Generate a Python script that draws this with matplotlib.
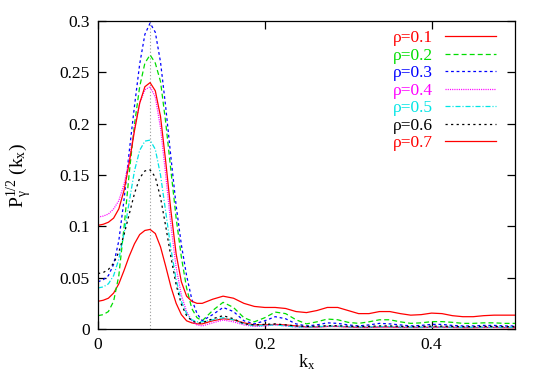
import matplotlib
matplotlib.use("Agg")
import matplotlib.pyplot as plt

plt.rcParams["font.family"] = "serif"
plt.rcParams["font.serif"] = ["Liberation Serif", "DejaVu Serif"]
plt.rcParams["mathtext.fontset"] = "custom"
plt.rcParams["mathtext.rm"] = "Liberation Serif"
plt.rcParams["mathtext.it"] = "Liberation Serif:italic"
plt.rcParams["lines.scale_dashes"] = False

# k_x sample points
kx = [0, .00625, .0125, .01875, .025, .03125, .0375, .04375, .05, .05625,
      .0625, .06875, .075, .08125, .0875, .09375, .1, .10625, .1125, .11875,
      .125, .1375, .15, .1625, .175, .1875, .2, .2125, .225, .2375,
      .25, .2625, .275, .2875, .3, .3125, .325, .3375, .35, .3625,
      .375, .3875, .4, .4125, .425, .4375, .45, .4625, .475, .4875, .5]

p01 = [0.027, 0.028, 0.030, 0.035, 0.044, 0.057, 0.071, 0.083, 0.092, 0.096,
       0.097, 0.093, 0.080, 0.061, 0.041, 0.025, 0.014, 0.008, 0.006, 0.005,
       0.005, 0.008, 0.010, 0.009, 0.006, 0.004, 0.004, 0.0045, 0.004, 0.003,
       0.002, 0.002, 0.0025, 0.0025, 0.002, 0.0015, 0.0015, 0.002, 0.002, 0.0015,
       0.0015, 0.0015, 0.0018, 0.0018, 0.0015, 0.0013, 0.0013, 0.0015, 0.0015, 0.0013, 0.0013]
p02 = [0.013, 0.014, 0.017, 0.027, 0.052, 0.099, 0.152, 0.199, 0.236, 0.259,
       0.267, 0.259, 0.241, 0.201, 0.154, 0.108, 0.070, 0.040, 0.020, 0.011,
       0.008, 0.018, 0.026, 0.021, 0.011, 0.007, 0.011, 0.0165, 0.015, 0.009,
       0.005, 0.007, 0.0097, 0.009, 0.0065, 0.0055, 0.007, 0.009, 0.009, 0.007,
       0.0055, 0.006, 0.0072, 0.0072, 0.0065, 0.0055, 0.0055, 0.006, 0.006, 0.0055, 0.0055]
p03 = [0.046, 0.048, 0.052, 0.063, 0.086, 0.126, 0.173, 0.217, 0.258, 0.287,
       0.298, 0.289, 0.260, 0.216, 0.167, 0.120, 0.082, 0.052, 0.029, 0.015,
       0.008, 0.014, 0.021, 0.017, 0.008, 0.005, 0.008, 0.012, 0.010, 0.005,
       0.003, 0.004, 0.006, 0.0055, 0.004, 0.003, 0.004, 0.0055, 0.005, 0.004,
       0.003, 0.0035, 0.0045, 0.0045, 0.0035, 0.003, 0.003, 0.0035, 0.0035, 0.003, 0.003]
p04 = [0.109, 0.110, 0.112, 0.117, 0.125, 0.141, 0.165, 0.195, 0.220, 0.233,
       0.236, 0.226, 0.196, 0.150, 0.101, 0.060, 0.033, 0.017, 0.008, 0.004,
       0.003, 0.006, 0.0088, 0.007, 0.004, 0.0025, 0.003, 0.004, 0.003, 0.002,
       0.0018, 0.002, 0.0025, 0.0025, 0.002, 0.0018, 0.0018, 0.002, 0.002, 0.0018,
       0.0016, 0.0016, 0.0018, 0.0018, 0.0016, 0.0015, 0.0015, 0.0016, 0.0016, 0.0015, 0.0015]
p05 = [0.040, 0.041, 0.044, 0.052, 0.068, 0.093, 0.124, 0.154, 0.174, 0.183,
       0.184, 0.175, 0.150, 0.114, 0.078, 0.048, 0.027, 0.015, 0.009, 0.007,
       0.007, 0.009, 0.011, 0.009, 0.005, 0.003, 0.0035, 0.004, 0.003, 0.002,
       0.002, 0.0022, 0.0028, 0.0028, 0.0022, 0.002, 0.002, 0.0024, 0.0024, 0.002,
       0.0018, 0.0018, 0.002, 0.002, 0.0018, 0.0017, 0.0017, 0.0018, 0.0018, 0.0017, 0.0017]
p06 = [0.054, 0.055, 0.058, 0.064, 0.075, 0.092, 0.112, 0.132, 0.147, 0.154,
       0.155, 0.148, 0.128, 0.100, 0.070, 0.043, 0.024, 0.013, 0.008, 0.006,
       0.006, 0.010, 0.013, 0.010, 0.005, 0.004, 0.0045, 0.005, 0.004, 0.003,
       0.0025, 0.0028, 0.0032, 0.0032, 0.0027, 0.0025, 0.0026, 0.003, 0.003, 0.0026,
       0.0024, 0.0025, 0.0028, 0.0028, 0.0025, 0.0023, 0.0023, 0.0025, 0.0025, 0.0023, 0.0023]
p07 = [0.101, 0.102, 0.104, 0.108, 0.117, 0.135, 0.162, 0.193, 0.220, 0.236,
       0.240, 0.232, 0.207, 0.163, 0.115, 0.073, 0.046, 0.032, 0.027, 0.025,
       0.025, 0.029, 0.032, 0.030, 0.025, 0.022, 0.021, 0.021, 0.020, 0.017,
       0.016, 0.018, 0.021, 0.021, 0.018, 0.015, 0.015, 0.017, 0.017, 0.015,
       0.0135, 0.014, 0.0155, 0.015, 0.013, 0.012, 0.012, 0.013, 0.0135, 0.0135, 0.0135]

labels = ["ρ=0.1", "ρ=0.2", "ρ=0.3", "ρ=0.4", "ρ=0.5", "ρ=0.6", "ρ=0.7"]
series = [p01, p02, p03, p04, p05, p06, p07]
k_peak = 0.0625

colors = ["#ff0000", "#00dd00", "#0000ff", "#ff00ff", "#00e5e5", "#000000", "#ff0000"]
dashes = [None, (3.6, 2.2), (2.0, 2.0), (0.8, 0.8), (3.6, 1.4, 0.8, 1.4), (1.6, 2.4), None]

fig = plt.figure(figsize=(5.44, 3.82), dpi=100)
ax = fig.add_axes([0.1801, 0.1387, 0.7665, 0.8063])

ax.axvline(k_peak, color="#999999", lw=0.8, dashes=(0.8, 1.6))
for y, lab, c, d in zip(series, labels, colors, dashes):
    kw = {} if d is None else {"dashes": d}
    ax.plot(kx, y, color=c, lw=0.9, label=lab, **kw)

ax.set_xlim(0, 0.5)
ax.set_ylim(0, 0.3)
ax.set_xticks([0, 0.2, 0.4])
ax.set_xticklabels(["0", "0.2", "0.4"])
ax.set_yticks([0, 0.05, 0.1, 0.15, 0.2, 0.25, 0.3])
ax.set_yticklabels(["0", "0.05", "0.1", "0.15", "0.2", "0.25", "0.3"])
ax.tick_params(direction="in", length=6, width=0.9, top=True, right=True,
               labelsize=12.5, pad=6)
for s in ax.spines.values():
    s.set_linewidth(0.9)

ax.set_xlabel(r"$\mathrm{k_x}$", fontsize=13)
ax.xaxis.set_label_coords(0.5, -0.075)
ax.set_ylabel(r"$\mathrm{P}_{\mathrm{γ}}^{\mathrm{1/2}}\ (\mathrm{k_x})$", fontsize=14)
ax.yaxis.set_label_coords(-0.153, 0.5)

ax.legend(loc="upper right", bbox_to_anchor=(0.983, 1.01), frameon=False,
          markerfirst=False, labelcolor="linecolor", fontsize=12.5,
          handlelength=2.9, handletextpad=0.7, labelspacing=0.08, borderpad=0.2)

fig.savefig("out.png", dpi=100)
